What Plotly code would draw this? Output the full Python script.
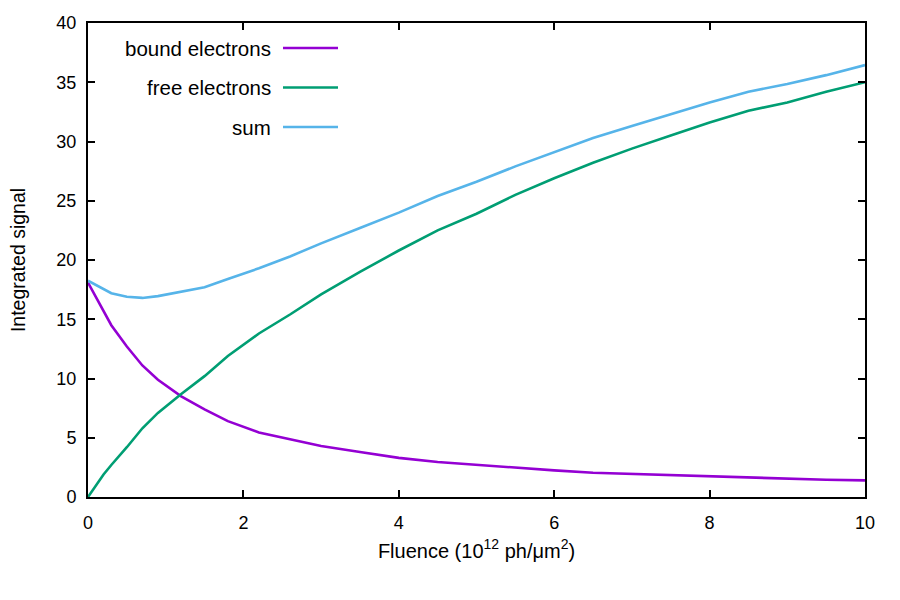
import plotly.graph_objects as go

# Data
fluence = [0, 0.1, 0.2, 0.3, 0.5, 0.7, 0.9, 1.2, 1.5, 1.8, 2.2, 2.6, 3.0, 3.5,
           4.0, 4.5, 5.0, 5.5, 6.0, 6.5, 7.0, 7.5, 8.0, 8.5, 9.0, 9.5, 10.0]
bound = [18.1, 16.9, 15.6, 14.5, 12.7, 11.1, 9.9, 8.5, 7.4, 6.4, 5.45, 4.85, 4.3, 3.8,
         3.3, 2.95, 2.7, 2.45, 2.25, 2.05, 1.95, 1.82, 1.7, 1.6, 1.55, 1.45, 1.4]
free = [0.0, 1.0, 1.9, 2.7, 4.2, 5.8, 7.1, 8.7, 10.2, 11.9, 13.8, 15.4, 17.1, 19.0,
        20.8, 22.5, 23.9, 25.5, 26.9, 28.2, 29.4, 30.5, 31.6, 32.6, 33.3, 34.2, 35.0]
total = [18.25, 17.9, 17.5, 17.2, 16.9, 16.8, 16.95, 17.3, 17.7, 18.4, 19.3, 20.3, 21.4, 22.7,
         24.0, 25.4, 26.6, 27.9, 29.1, 30.3, 31.3, 32.3, 33.3, 34.2, 34.85, 35.6, 36.45]

series_names = ["bound electrons", "free electrons", "sum"]
series_colors = ["#9400d3", "#009e73", "#56b4e9"]
series_values = [bound, free, total]

x_ticks = [0, 2, 4, 6, 8, 10]
y_ticks = [0, 5, 10, 15, 20, 25, 30, 35, 40]

FONT = "Liberation Sans, Arial, sans-serif"

fig = go.Figure()
for name, color, vals in zip(series_names, series_colors, series_values):
    fig.add_trace(go.Scatter(x=fluence, y=vals, mode="lines", name=name,
                             line=dict(color=color, width=2.6), showlegend=False))

# Manual legend (gnuplot style: text left of line sample)
L, R, T, B = 88, 865, 23, 497
W, H = R - L, B - T
shapes = []
annotations = []
for i, (name, color) in enumerate(zip(series_names, series_colors)):
    py = 48 + 39.5 * i
    yp = (B - py) / H
    shapes.append(dict(type="line", xref="paper", yref="paper",
                       x0=(283 - L) / W, x1=(338 - L) / W, y0=yp, y1=yp,
                       line=dict(color=color, width=2.6)))
    annotations.append(dict(text=name, xref="paper", yref="paper",
                            x=(273 - L) / W, y=yp, xanchor="right", yanchor="middle",
                            showarrow=False, font=dict(family=FONT, size=20.5, color="black")))

fig.update_layout(
    width=900, height=600,
    margin=dict(l=L, r=900 - R, t=T, b=600 - B),
    plot_bgcolor="white", paper_bgcolor="white",
    font=dict(family=FONT, size=17, color="black"),
    shapes=shapes, annotations=annotations,
    showlegend=False,
)
fig.update_xaxes(range=[0, 10], tickvals=x_ticks, ticks="inside", ticklen=7, tickwidth=2,
                 tickcolor="black", showline=True, linecolor="black", linewidth=2,
                 mirror="ticks", showgrid=False, zeroline=False, ticklabelstandoff=8,
                 title=dict(text="Fluence (10<sup>12</sup> ph/μm<sup>2</sup>)",
                            font=dict(size=20), standoff=12),
                 tickfont=dict(size=18))
fig.update_yaxes(range=[0, 40], tickvals=y_ticks, ticks="inside", ticklen=7, tickwidth=2,
                 tickcolor="black", showline=True, linecolor="black", linewidth=2,
                 mirror="ticks", showgrid=False, zeroline=False, ticklabelstandoff=6,
                 title=dict(text="Integrated signal", font=dict(size=19.5), standoff=26),
                 tickfont=dict(size=18))

fig.write_html("out.html")
